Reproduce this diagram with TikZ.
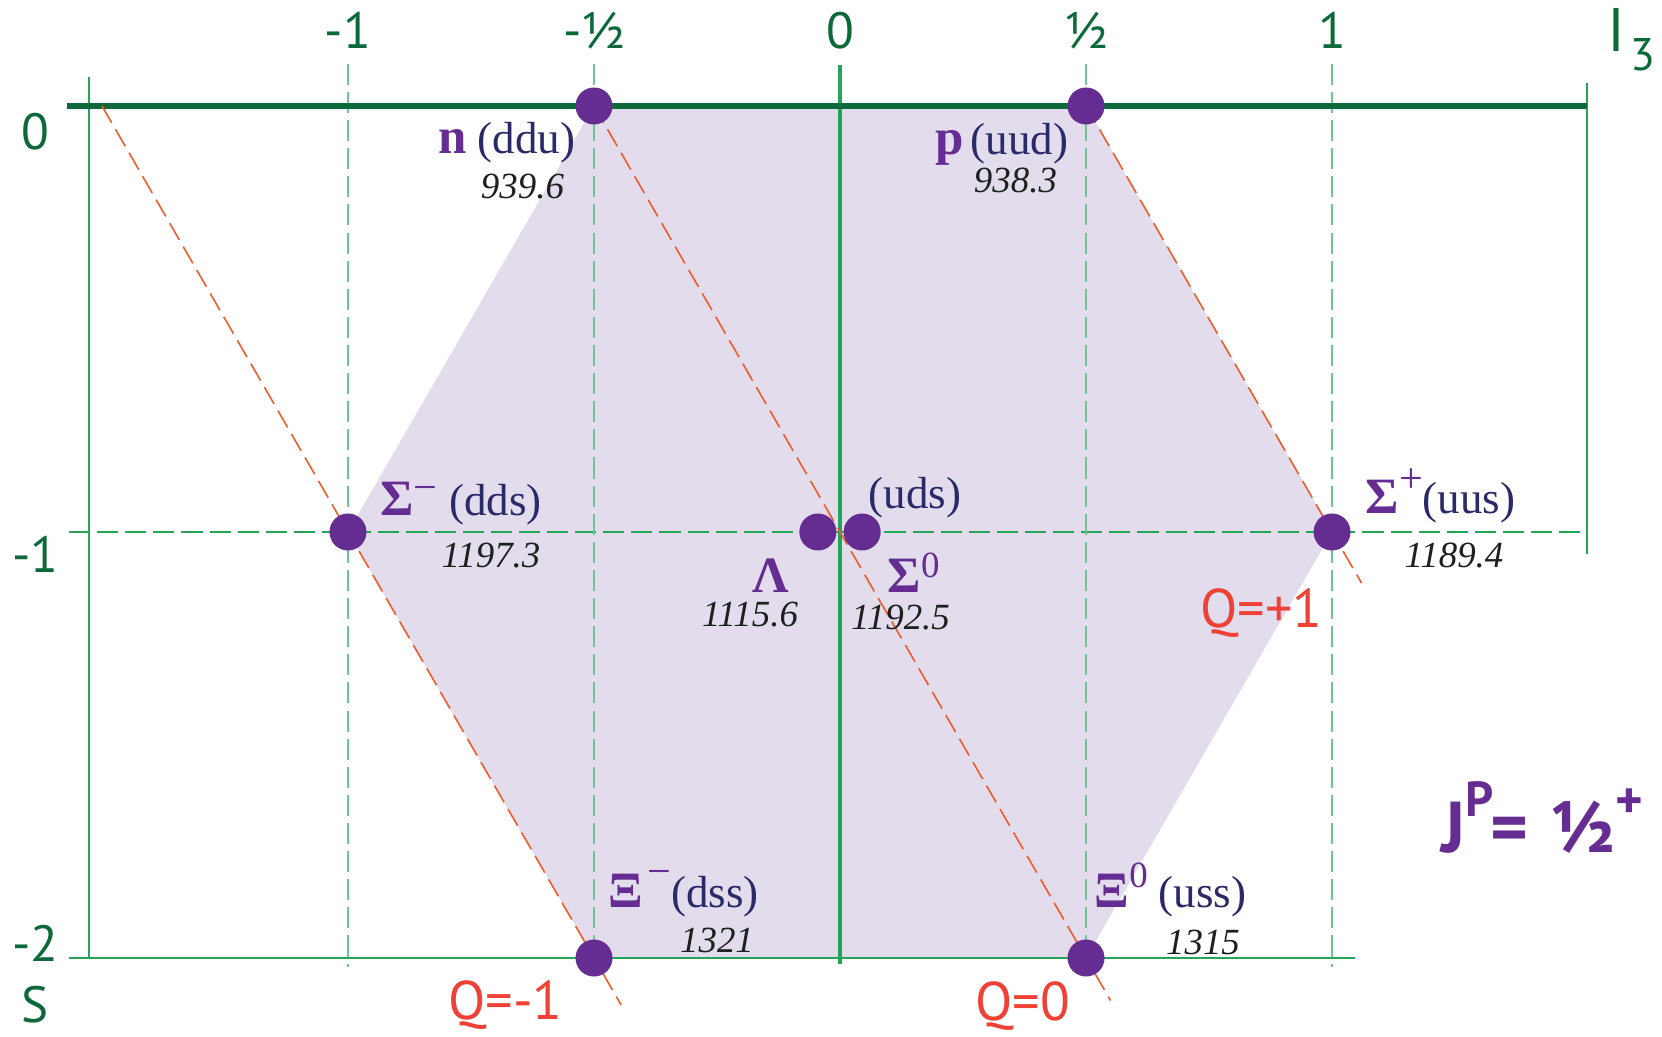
\documentclass[tikz,border=0pt]{standalone}
\usepackage{fontspec}
\setmainfont{Liberation Serif}
\newfontfamily\axisfont{PT Sans}
\usetikzlibrary{calc}
\definecolor{axisgreen}{RGB}{13,104,58}
\definecolor{gridgreen}{RGB}{36,166,88}
\definecolor{dashgreen}{RGB}{110,196,146}
\definecolor{octet}{RGB}{226,220,236}
\definecolor{baryon}{RGB}{101,45,145}
\definecolor{quark}{RGB}{43,42,104}
\definecolor{qline}{RGB}{241,90,41}
\definecolor{qtext}{RGB}{239,65,54}
\newcommand{\bsym}[1]{{\fontsize{14.5}{14.5}\selectfont\bfseries\color{baryon}#1}}
\newcommand{\charge}[3][12]{\raisebox{#2}{\fontsize{#1}{#1}\selectfont\color{baryon}#3}}

\begin{document}
\begin{tikzpicture}[x=4.92cm, y=4.26cm,
    dot/.style={circle, fill=baryon, inner sep=0pt, minimum size=3.7mm},
    axislabel/.style={font=\axisfont\fontsize{14.5}{14.5}\selectfont, text=axisgreen, inner sep=0pt, anchor=base},
    qlabel/.style={font=\axisfont\fontsize{15.5}{15.5}\selectfont, text=qtext, inner sep=0pt, anchor=base},
    quarks/.style={font=\fontsize{12.8}{12.8}\selectfont, text=quark, inner sep=0pt},
    mass/.style={font=\fontsize{10.5}{10.5}\selectfont\itshape, text=black!88, inner sep=0pt, anchor=base},
    spin/.style={font=\axisfont\bfseries\fontsize{20.5}{20.5}\selectfont, text=baryon, inner sep=0pt, anchor=base west},
    griddash/.style={line width=0.5pt, dash pattern=on 6pt off 2pt},
    chargeline/.style={qline, line width=0.45pt, dash pattern=on 5.5pt off 2.2pt}]
    \useasboundingbox (-1.7073,-2.1854) rectangle (1.6707,0.2488);
    \foreach \p/\x/\y in {n/-0.5/0, p/0.5/0, sigm/-1/-1, sigp/1/-1, lam/-0.045/-1, sigz/0.045/-1, xim/-0.5/-2, xiz/0.5/-2}
        \coordinate (\p) at (\x,\y);
    \fill[octet] (n) -- (p) -- (sigp) -- (xiz) -- (xim) -- (sigm) -- cycle;
    \draw[griddash, gridgreen] (-1.567,-1) -- (1.518,-1);
    \foreach \i in {-1,-0.5,0.5,1}
        \draw[griddash, dashgreen] (\i,0.099) -- (\i,-2.02);
    \draw[gridgreen, line width=0.55pt] (-1.5264,0.068) -- (-1.5264,-2);
    \draw[gridgreen, line width=0.55pt] (1.518,0.054) -- (1.518,-1.052);
    \draw[gridgreen, line width=0.6pt] (-1.567,-2) -- (1.047,-2);
    \draw[gridgreen, line width=1.2pt] (0,0.096) -- (0,-2.015);
    \draw[axisgreen, line width=1.5pt] (-1.571,0) -- (1.518,0);
    \draw[chargeline] ($(sigm)!-1!(xim)$) -- ($(sigm)!1.11!(xim)$);
    \draw[chargeline] (n) -- ($(n)!1.05!(xiz)$);
    \draw[chargeline] (p) -- ($(p)!1.12!(sigp)$);
    \foreach \p in {n,p,sigm,sigp,lam,sigz,xim,xiz}
        \node[dot] (\p dot) at (\p) {};
    \node[quarks, anchor=base east] (n label) at (-0.5366,-0.1127) {\bsym{n} (ddu)};
    \node[mass] (n mass) at (-0.6453,-0.2183) {939.6};
    \node[quarks, anchor=base east] (p label) at (0.4654,-0.115) {\bsym{p}\,(uud)};
    \node[mass] (p mass) at (0.3567,-0.2042) {938.3};
    \node[quarks, anchor=base west] (sigm label) at (-0.935,-0.9624) {\bsym{Σ}\charge{1.4mm}{−} (dds)};
    \node[mass] (sigm mass) at (-0.7093,-1.0845) {1197.3};
    \node[quarks, anchor=base west] (uds label) at (0.0569,-0.946) {(uds)};
    \node[quarks, anchor=base east] (lam label) at (-0.1016,-1.1432) {\bsym{Λ}};
    \node[mass] (lam mass) at (-0.1829,-1.223) {1115.6};
    \node[quarks, anchor=base west] (sigz label) at (0.0955,-1.1432) {\bsym{Σ}\charge[10.5]{1.5mm}{0}};
    \node[mass] (sigz mass) at (0.123,-1.23) {1192.5};
    \node[quarks, anchor=base west] (sigp label) at (1.067,-0.9577) {\bsym{Σ}\charge{2.1mm}{+}(uus)};
    \node[mass] (sigp mass) at (1.248,-1.0822) {1189.4};
    \node[quarks, anchor=base west] (xim label) at (-0.4715,-1.8826) {\bsym{Ξ}\hspace{0.4mm}\charge{2.2mm}{−}(dss)};
    \node[mass] (xim mass) at (-0.25,-1.988) {1321};
    \node[quarks, anchor=base west] (xiz label) at (0.5163,-1.8803) {\bsym{Ξ}\charge[10.5]{2mm}{0} (uss)};
    \node[mass] (xiz mass) at (0.7378,-1.9906) {1315};
    \foreach \n/\i/\t in {a/-1/-1, b/-0.5/-½, c/0/0, d/0.5/½, e/1/1}
        \node[axislabel] (i3 \n) at (\i,0.1338) {\t};
    \node[axislabel, font=\axisfont\fontsize{17.5}{17.5}\selectfont, anchor=base west] (i3 label) at (1.559,0.1268) {I\hspace{0.5mm}\raisebox{-1.9mm}{\fontsize{13}{13}\selectfont 3}};
    \foreach \n/\s/\t in {a/-0.1033/0, b/-1.0962/-1, c/-2.009/-2, d/-2.152/S}
        \node[axislabel] (s \n) at (-1.636,\s) {\t};
    \node[qlabel] (q plus) at (0.8567,-1.225) {Q=+1};
    \node[qlabel] (q minus) at (-0.6799,-2.145) {Q=-1};
    \node[qlabel] (q zero) at (0.371,-2.147) {Q=0};
    \node[spin] (jp) at (1.2215,-1.7512) {J\raisebox{3.6mm}{\fontsize{14}{14}\selectfont P}\hspace{-0.3mm}=\hspace{2.2mm}½\raisebox{3.4mm}{\fontsize{15}{15}\selectfont +}};
\end{tikzpicture}
\end{document}
